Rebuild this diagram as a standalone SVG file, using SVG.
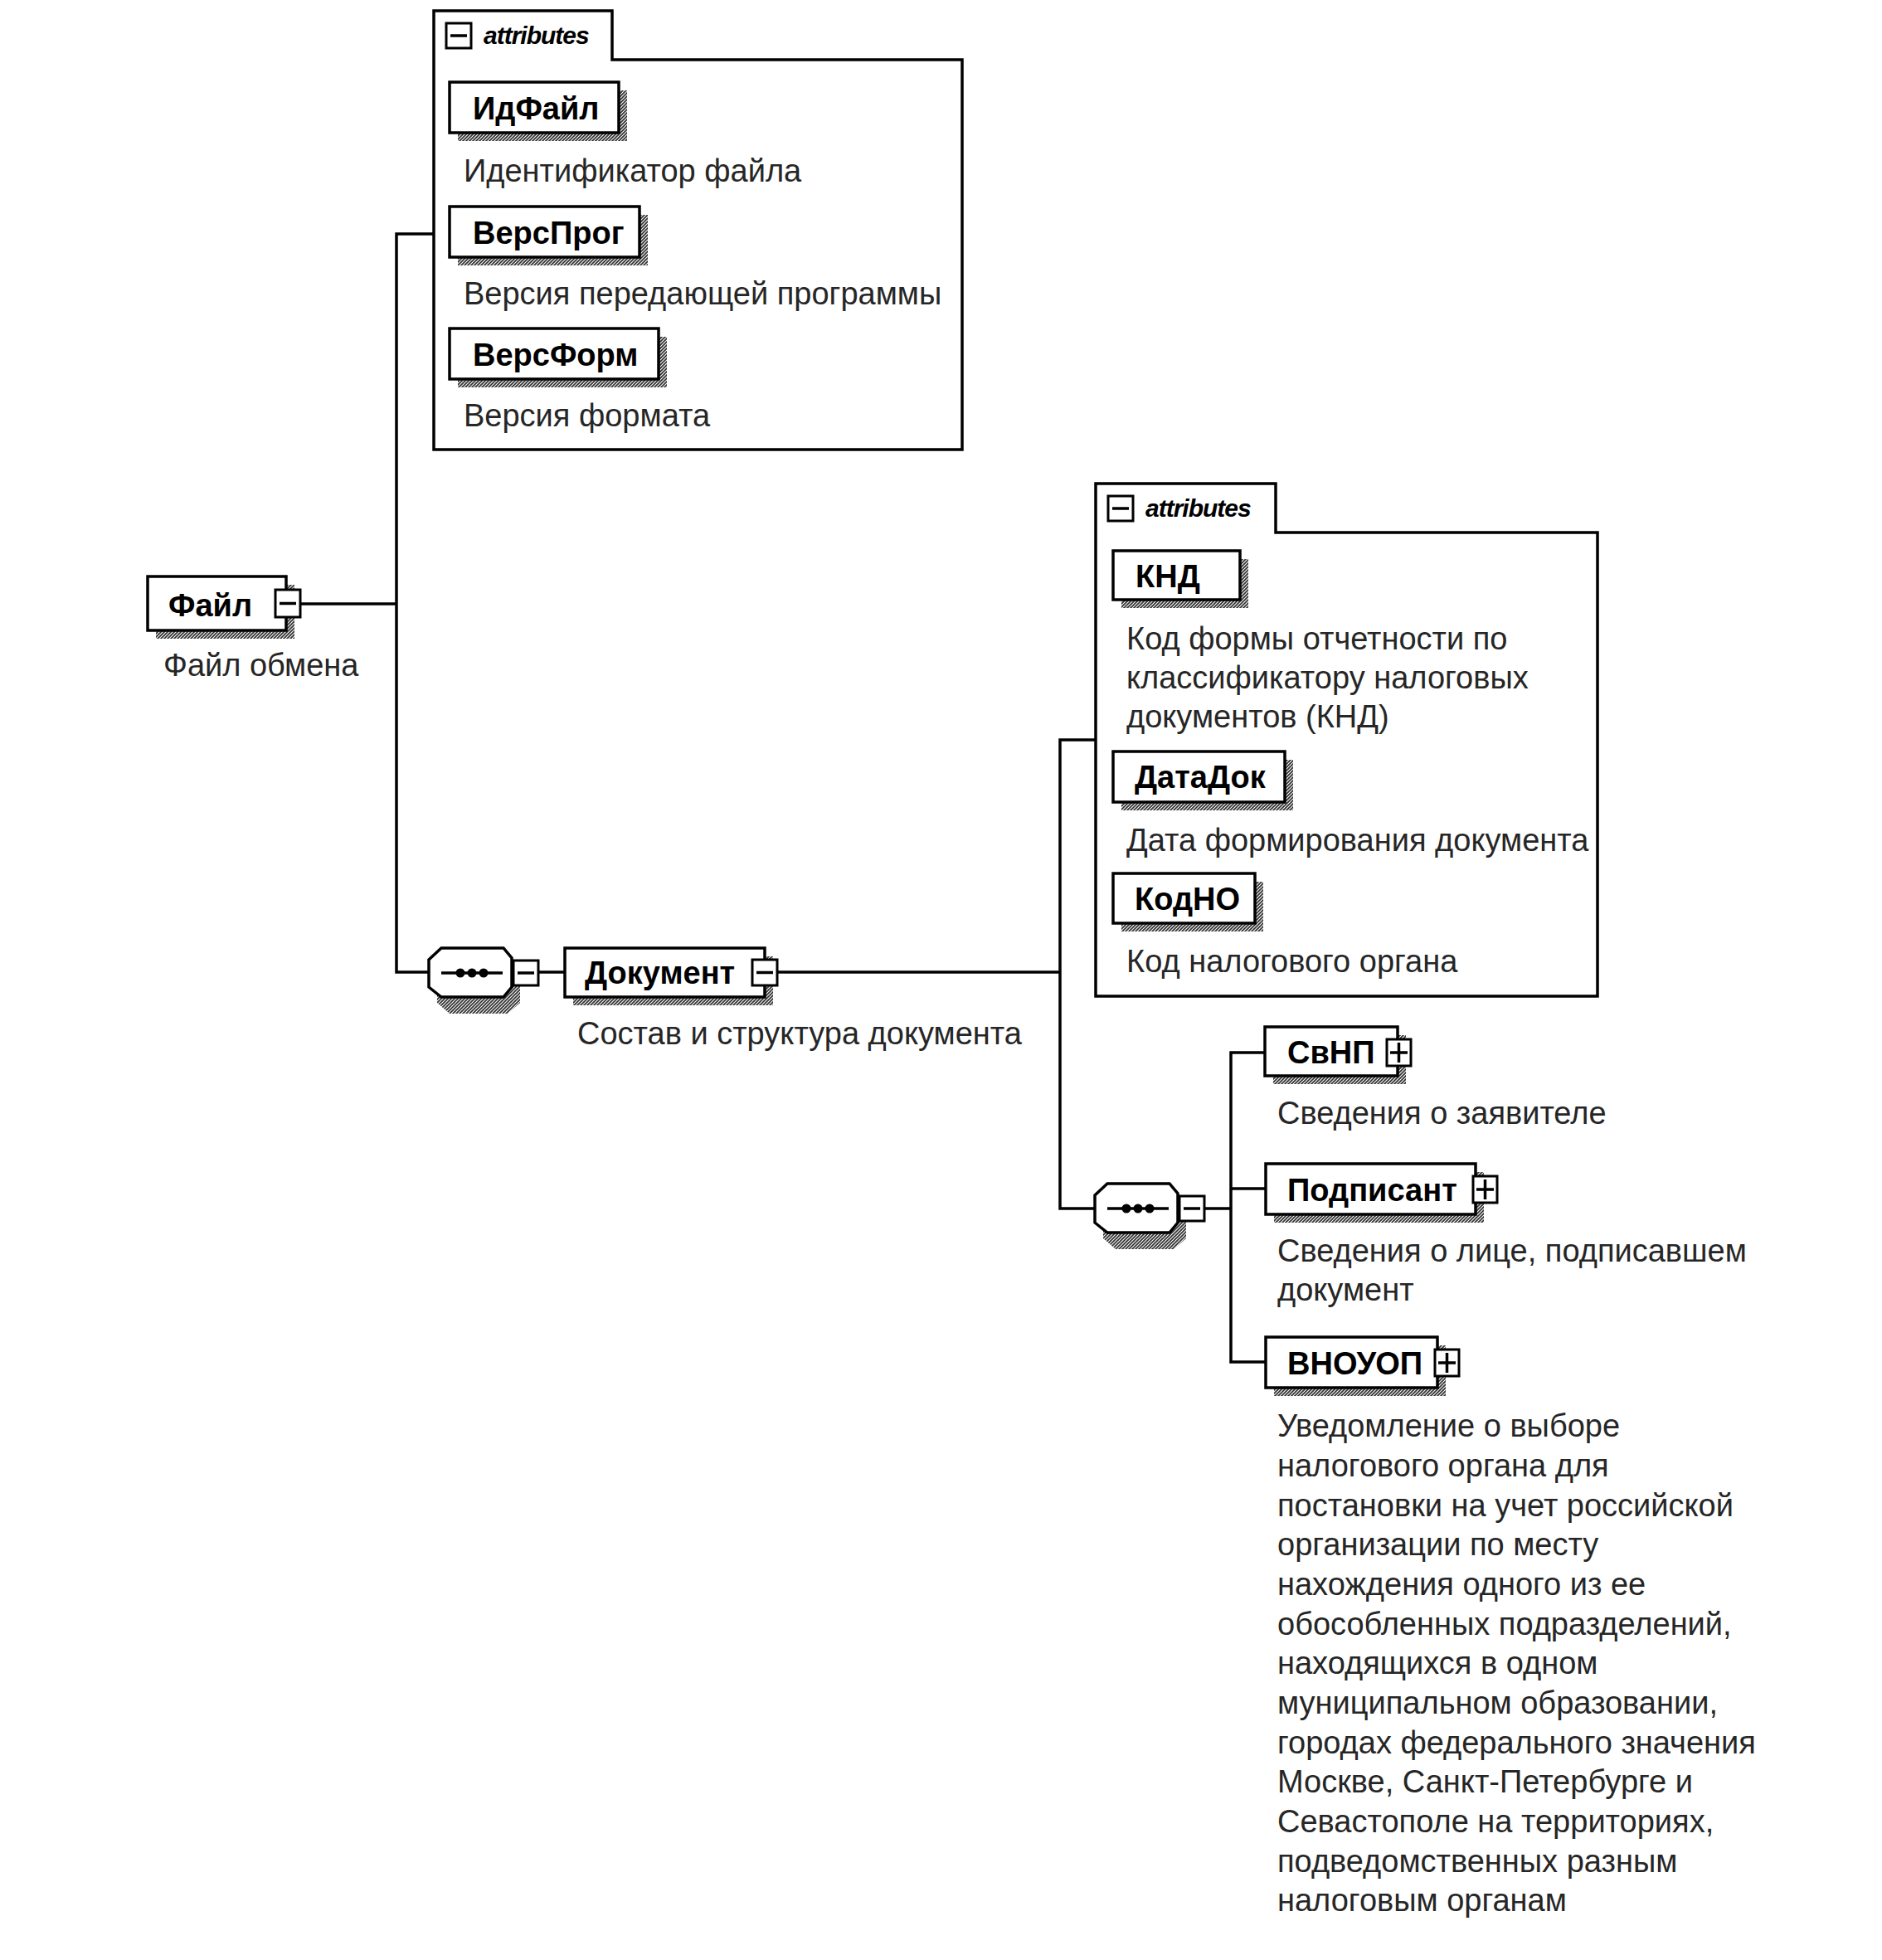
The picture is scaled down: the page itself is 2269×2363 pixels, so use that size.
<svg xmlns="http://www.w3.org/2000/svg" width="2269" height="2363" viewBox="0 0 2269 2363">
<style>
  .box { fill: #fff; stroke: #000; stroke-width: 3.5; }
  .cont { fill: #fff; stroke: #000; stroke-width: 3.5; }
  .sh { fill: url(#hatch); stroke: none; }
  .pm { fill: #fff; stroke: #000; stroke-width: 3; }
  .pml { stroke: #000; stroke-width: 3.5; fill: none; }
  .con { stroke: #000; stroke-width: 3.5; fill: none; }
  .name { font-family: "Liberation Sans", Arial, sans-serif; font-weight: bold; font-size: 38px; fill: #000; }
  .desc { font-family: "Liberation Sans", Arial, sans-serif; font-size: 38px; fill: #262626; }
  .attr { font-family: "Liberation Sans", Arial, sans-serif; font-weight: bold; font-style: italic; font-size: 30px; fill: #000; letter-spacing: -1px; }
</style>
<defs>
  <pattern id="hatch" width="4" height="4" patternUnits="userSpaceOnUse">
    <rect width="4" height="4" fill="#fff"/>
    <path d="M-1,1 L1,-1 M0,4 L4,0 M3,5 L5,3" stroke="#333" stroke-width="1.8"/>
  </pattern>
  <g id="seq">
    <path class="sh" d="M15,10 H85 L100,23 V56 L85,69 H15 L0,56 V23 Z" transform="translate(10,10)"/>
    <path class="box" d="M15,0 H90 L100,12 V47 L90,59 H15 L0,47 V14 Z"/>
    <line class="pml" x1="15" y1="30" x2="89" y2="30"/>
    <circle cx="38" cy="30" r="5.5" fill="#000"/>
    <circle cx="52" cy="30" r="5.5" fill="#000"/>
    <circle cx="66" cy="30" r="5.5" fill="#000"/>
    <rect class="pm" x="102" y="15" width="30" height="30"/>
    <line class="pml" x1="107" y1="30" x2="127" y2="30"/>
  </g>
</defs>
<rect width="2269" height="2363" fill="#fff"/>

<g id="connectors">
  <path class="con" d="M362,728 H478"/>
  <path class="con" d="M523,282 H478 V1172 H517"/>
  <path class="con" d="M649,1172 H681"/>
  <path class="con" d="M937,1172 H1278"/>
  <path class="con" d="M1321,892 H1278 V1457 H1320"/>
  <path class="con" d="M1452,1457 H1484"/>
  <path class="con" d="M1525,1269 H1484 V1642 H1526"/>
  <path class="con" d="M1484,1433 H1526"/>
</g>

<g id="node-fail">
  <rect class="sh" x="188" y="705" width="167" height="65"/>
  <rect class="box" x="178" y="695" width="167" height="65"/>
  <text class="name" x="203" y="743">Файл</text>
  <rect class="pm" x="332" y="711" width="30" height="33"/>
  <line class="pml" x1="337" y1="727.5" x2="357" y2="727.5"/>
  <text class="desc" x="197" y="815">Файл обмена</text>
</g>

<g id="attrs-fail">
  <path class="cont" d="M523,13 H738 V72 H1160 V542 H523 Z"/>
  <rect class="pm" x="538" y="28" width="30" height="30"/>
  <line class="pml" x1="543" y1="43" x2="563" y2="43"/>
  <text class="attr" x="583" y="53">attributes</text>
</g>

<g id="attr-idfail">
  <rect class="sh" x="552" y="109" width="204" height="61"/>
  <rect class="box" x="542" y="99" width="204" height="61"/>
  <text class="name" x="570" y="144">ИдФайл</text>
  <text class="desc" x="559" y="219">Идентификатор файла</text>
</g>

<g id="attr-versprog">
  <rect class="sh" x="552" y="259" width="229" height="61"/>
  <rect class="box" x="542" y="249" width="229" height="61"/>
  <text class="name" x="570" y="294">ВерсПрог</text>
  <text class="desc" x="559" y="367">Версия передающей программы</text>
</g>

<g id="attr-versform">
  <rect class="sh" x="552" y="406" width="252" height="61"/>
  <rect class="box" x="542" y="396" width="252" height="61"/>
  <text class="name" x="570" y="441">ВерсФорм</text>
  <text class="desc" x="559" y="514">Версия формата</text>
</g>

<g id="seq-1">
  <use href="#seq" x="517" y="1143"/>
</g>

<g id="node-dokument">
  <rect class="sh" x="691" y="1153" width="241" height="59"/>
  <rect class="box" x="681" y="1143" width="241" height="59"/>
  <text class="name" x="705" y="1186">Документ</text>
  <rect class="pm" x="907" y="1157" width="30" height="31"/>
  <line class="pml" x1="912" y1="1172.5" x2="932" y2="1172.5"/>
  <text class="desc" x="696" y="1259">Состав и структура документа</text>
</g>

<g id="attrs-dokument">
  <path class="cont" d="M1321,583 H1538 V642 H1926 V1201 H1321 Z"/>
  <rect class="pm" x="1336" y="598" width="30" height="30"/>
  <line class="pml" x1="1341" y1="613" x2="1361" y2="613"/>
  <text class="attr" x="1381" y="623">attributes</text>
</g>

<g id="attr-knd">
  <rect class="sh" x="1352" y="674" width="153" height="59"/>
  <rect class="box" x="1342" y="664" width="153" height="59"/>
  <text class="name" x="1369" y="708">КНД</text>
  <text class="desc" x="1358" y="783">Код формы отчетности по</text>
  <text class="desc" x="1358" y="830">классификатору налоговых</text>
  <text class="desc" x="1358" y="877">документов (КНД)</text>
</g>

<g id="attr-datadok">
  <rect class="sh" x="1352" y="916" width="207" height="61"/>
  <rect class="box" x="1342" y="906" width="207" height="61"/>
  <text class="name" x="1368" y="950">ДатаДок</text>
  <text class="desc" x="1358" y="1026">Дата формирования документа</text>
</g>

<g id="attr-kodno">
  <rect class="sh" x="1352" y="1063" width="171" height="60"/>
  <rect class="box" x="1342" y="1053" width="171" height="60"/>
  <text class="name" x="1368" y="1097">КодНО</text>
  <text class="desc" x="1358" y="1172">Код налогового органа</text>
</g>

<g id="seq-2">
  <use href="#seq" x="1320" y="1427"/>
</g>

<g id="node-svnp">
  <rect class="sh" x="1535" y="1248" width="160" height="59"/>
  <rect class="box" x="1525" y="1238" width="160" height="59"/>
  <text class="name" x="1552" y="1282">СвНП</text>
  <rect class="pm" x="1672" y="1253" width="29" height="32"/>
  <path class="pml" d="M1676,1269 H1697 M1686.5,1257 V1281"/>
  <text class="desc" x="1540" y="1355">Сведения о заявителе</text>
</g>

<g id="node-podpisant">
  <rect class="sh" x="1536" y="1413" width="253" height="61"/>
  <rect class="box" x="1526" y="1403" width="253" height="61"/>
  <text class="name" x="1552" y="1448">Подписант</text>
  <rect class="pm" x="1776" y="1418" width="29" height="32"/>
  <path class="pml" d="M1780,1434 H1801 M1790.5,1422 V1446"/>
  <text class="desc" x="1540" y="1521">Сведения о лице, подписавшем</text>
  <text class="desc" x="1540" y="1568">документ</text>
</g>

<g id="node-vnouop">
  <rect class="sh" x="1536" y="1622" width="207" height="61"/>
  <rect class="box" x="1526" y="1612" width="207" height="61"/>
  <text class="name" x="1552" y="1657">ВНОУОП</text>
  <rect class="pm" x="1730" y="1627" width="29" height="32"/>
  <path class="pml" d="M1734,1643 H1755 M1744.5,1631 V1655"/>
  <text class="desc" x="1540" y="1732">Уведомление о выборе</text>
  <text class="desc" x="1540" y="1780">налогового органа для</text>
  <text class="desc" x="1540" y="1828">постановки на учет российской</text>
  <text class="desc" x="1540" y="1875">организации по месту</text>
  <text class="desc" x="1540" y="1923">нахождения одного из ее</text>
  <text class="desc" x="1540" y="1971">обособленных подразделений,</text>
  <text class="desc" x="1540" y="2018">находящихся в одном</text>
  <text class="desc" x="1540" y="2066">муниципальном образовании,</text>
  <text class="desc" x="1540" y="2114">городах федерального значения</text>
  <text class="desc" x="1540" y="2161">Москве, Санкт-Петербурге и</text>
  <text class="desc" x="1540" y="2209">Севастополе на территориях,</text>
  <text class="desc" x="1540" y="2257">подведомственных разным</text>
  <text class="desc" x="1540" y="2304">налоговым органам</text>
</g>
</svg>
